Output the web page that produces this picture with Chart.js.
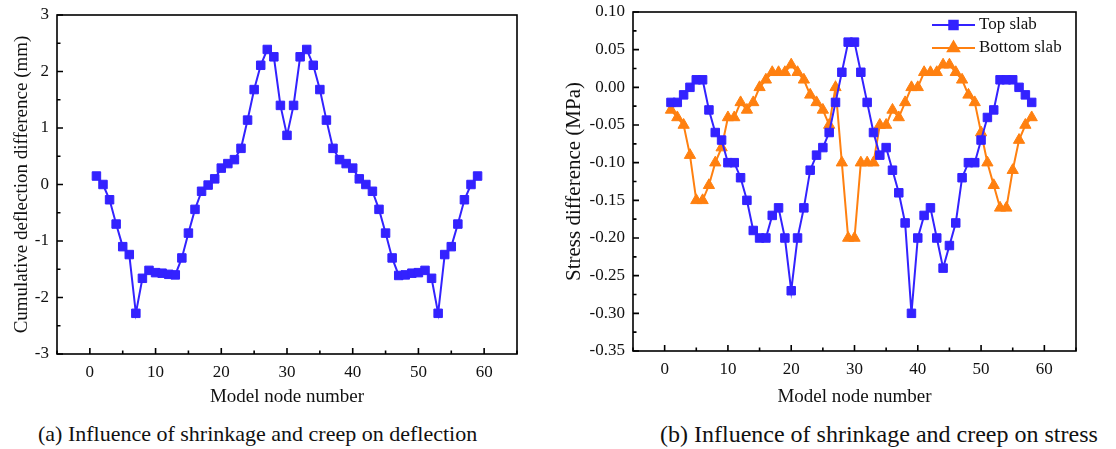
<!DOCTYPE html>
<html>
<head>
<meta charset="utf-8">
<script src="https://cdn.jsdelivr.net/npm/chart.js@4/dist/chart.umd.min.js"></script>
<style>
  body { margin: 0; background: #fff; width: 1116px; height: 449px; position: relative; overflow: hidden; }
  #chartA { position: absolute; left: 0; top: 0; }
  #chartB { position: absolute; left: 545px; top: 0; }
  .cap { position: absolute; font-family: "Liberation Serif", serif; line-height: 1; white-space: nowrap; color: #111; }
</style>
</head>
<body>
<canvas id="chartA" width="545" height="412"></canvas>
<canvas id="chartB" width="571" height="412"></canvas>
<div class="cap" style="left:38px;top:423px;font-size:22px">(a) Influence of shrinkage and creep on deflection</div>
<div class="cap" style="left:660px;top:422px;font-size:24px">(b) Influence of shrinkage and creep on stress</div>
<script>
const nodesA = [1, 2, 3, 4, 5, 6, 7, 8, 9, 10, 11, 12, 13, 14, 15, 16, 17, 18, 19, 20,
  21, 22, 23, 24, 25, 26, 27, 28, 29, 30, 31, 32, 33, 34, 35, 36, 37, 38, 39, 40,
  41, 42, 43, 44, 45, 46, 47, 48, 49, 50, 51, 52, 53, 54, 55, 56, 57, 58, 59];
const deflection = [0.15, 0.00, -0.27, -0.70, -1.10, -1.24, -2.28, -1.66, -1.52, -1.56,
  -1.57, -1.59, -1.60, -1.30, -0.86, -0.44, -0.12, -0.01, 0.10, 0.29,
  0.37, 0.44, 0.64, 1.14, 1.68, 2.11, 2.39, 2.26, 1.40, 0.87,
  1.40, 2.26, 2.39, 2.11, 1.68, 1.14, 0.64, 0.44, 0.37, 0.29,
  0.10, 0.00, -0.12, -0.44, -0.86, -1.30, -1.61, -1.60, -1.57, -1.56,
  -1.52, -1.66, -2.28, -1.24, -1.10, -0.70, -0.27, 0.00, 0.15];

const nodesB = [1, 2, 3, 4, 5, 6, 7, 8, 9, 10, 11, 12, 13, 14, 15, 16, 17, 18, 19, 20,
  21, 22, 23, 24, 25, 26, 27, 28, 29, 30, 31, 32, 33, 34, 35, 36, 37, 38, 39, 40,
  41, 42, 43, 44, 45, 46, 47, 48, 49, 50, 51, 52, 53, 54, 55, 56, 57, 58];
const topSlab = [-0.02, -0.02, -0.01, 0.00, 0.01, 0.01, -0.03, -0.06, -0.07, -0.10,
  -0.10, -0.12, -0.15, -0.19, -0.20, -0.20, -0.17, -0.16, -0.20, -0.27,
  -0.20, -0.16, -0.11, -0.09, -0.08, -0.06, -0.02, 0.02, 0.06, 0.06,
  0.02, -0.02, -0.06, -0.09, -0.08, -0.11, -0.14, -0.18, -0.30, -0.20,
  -0.17, -0.16, -0.20, -0.24, -0.21, -0.18, -0.12, -0.10, -0.10, -0.07,
  -0.04, -0.03, 0.01, 0.01, 0.01, 0.00, -0.01, -0.02];
const bottomSlab = [-0.03, -0.04, -0.05, -0.09, -0.15, -0.15, -0.13, -0.10, -0.08, -0.04,
  -0.04, -0.02, -0.03, -0.02, 0.00, 0.01, 0.02, 0.02, 0.02, 0.03,
  0.02, 0.01, -0.01, -0.02, -0.03, -0.05, 0.00, -0.10, -0.20, -0.20,
  -0.10, -0.10, -0.10, -0.05, -0.05, -0.03, -0.04, -0.02, 0.00, 0.00,
  0.02, 0.02, 0.02, 0.03, 0.03, 0.02, 0.01, -0.01, -0.02, -0.06,
  -0.10, -0.13, -0.16, -0.16, -0.11, -0.07, -0.05, -0.04];

const xTicks = [0, 10, 20, 30, 40, 50, 60];
const xMinor = [-5, 5, 15, 25, 35, 45, 55, 65];
const yTicksA = [-3, -2, -1, 0, 1, 2, 3];
const yMinorA = [-2.5, -1.5, -0.5, 0.5, 1.5, 2.5];
const yTicksB = [-0.35, -0.30, -0.25, -0.20, -0.15, -0.10, -0.05, 0.00, 0.05, 0.10];
const yMinorB = [-0.325, -0.275, -0.225, -0.175, -0.125, -0.075, -0.025, 0.025, 0.075];

const blue = "#3322ff";
const orange = "#ff8010";
const serif = "'Liberation Serif', 'Times New Roman', serif";

function pts(xs, ys) {
  return xs.map((x, i) => ({ x: x, y: ys[i] }));
}

// box round the plot and inward ticks, major and minor
const frameTicks = {
  id: "frameTicks",
  afterDraw(chart, args, opts) {
    const { ctx, chartArea: a, scales } = chart;
    ctx.save();
    ctx.strokeStyle = "#000";
    ctx.lineWidth = 1.6;
    ctx.strokeRect(a.left, a.top, a.right - a.left, a.bottom - a.top);
    ctx.beginPath();
    const mark = (axis, vals, len) => {
      vals.forEach((v) => {
        const p = axis.getPixelForValue(v);
        if (axis.isHorizontal()) {
          ctx.moveTo(p, a.bottom);
          ctx.lineTo(p, a.bottom - len);
        } else {
          ctx.moveTo(a.left, p);
          ctx.lineTo(a.left + len, p);
        }
      });
    };
    mark(scales.x, opts.xMajor, 6);
    mark(scales.x, opts.xMinor, 3.5);
    mark(scales.y, opts.yMajor, 6);
    mark(scales.y, opts.yMinor, 3.5);
    ctx.stroke();
    ctx.restore();
  },
};

// legend inside the top right corner
const innerLegend = {
  id: "innerLegend",
  afterDraw(chart, args, opts) {
    if (!opts.show) return;
    const { ctx, chartArea: a } = chart;
    ctx.save();
    ctx.font = "17px " + serif;
    ctx.textBaseline = "middle";
    chart.data.datasets.forEach((ds, i) => {
      const y = a.top + 13 + i * 23;
      const x0 = a.right - 144;
      const x1 = a.right - 101;
      ctx.strokeStyle = ds.borderColor;
      ctx.lineWidth = 2;
      ctx.beginPath();
      ctx.moveTo(x0, y);
      ctx.lineTo(x1, y);
      ctx.stroke();
      ctx.fillStyle = ds.backgroundColor;
      Chart.helpers.drawPoint(ctx, { pointStyle: ds.pointStyle, radius: ds.pointRadius, borderWidth: 1 }, (x0 + x1) / 2, y);
      ctx.fillStyle = "#111";
      ctx.fillText(ds.label, a.right - 97, y);
    });
    ctx.restore();
  },
};

function lineSet(label, data, color, style, radius) {
  return {
    label: label,
    data: data,
    borderColor: color,
    backgroundColor: color,
    borderWidth: 2,
    pointStyle: style,
    pointRadius: radius,
    pointBorderWidth: 1,
    tension: 0,
  };
}

function makeOptions(o) {
  return {
    responsive: false,
    animation: false,
    layout: { padding: o.padding },
    plugins: {
      legend: { display: false },
      tooltip: { enabled: false },
      frameTicks: { xMajor: xTicks, xMinor: xMinor, yMajor: o.yMajor, yMinor: o.yMinor },
      innerLegend: { show: o.legend },
    },
    scales: {
      x: {
        type: "linear",
        min: -5,
        max: 65,
        grid: { display: false, drawTicks: false },
        border: { display: false },
        afterBuildTicks: (s) => { s.ticks = xTicks.map((v) => ({ value: v })); },
        afterFit: (s) => { s.height = o.xHeight; s.paddingLeft = 0; s.paddingRight = 0; },
        ticks: { autoSkip: false, maxRotation: 0, padding: 8, color: "#111", font: { family: serif, size: 17 } },
        title: { display: true, text: "Model node number", color: "#111", font: { family: serif, size: 19 } },
      },
      y: {
        min: o.yMin,
        max: o.yMax,
        grid: { display: false, drawTicks: false },
        border: { display: false },
        afterBuildTicks: (s) => { s.ticks = o.yMajor.map((v) => ({ value: v })); },
        afterFit: (s) => { s.width = o.yWidth; s.paddingTop = 0; s.paddingBottom = 0; },
        ticks: { autoSkip: false, padding: 8, color: "#111", font: { family: serif, size: 17 }, callback: o.fmt },
        title: { display: true, text: o.yTitle, color: "#111", font: { family: serif, size: o.yTitleSize } },
      },
    },
  };
}

const chartA = new Chart(document.getElementById("chartA").getContext("2d"), {
  type: "line",
  data: {
    datasets: [lineSet("Cumulative deflection difference", pts(nodesA, deflection), blue, "rect", 6)],
  },
  options: makeOptions({
    padding: { left: 7, right: 28, top: 15, bottom: 0 },
    xHeight: 58,
    yWidth: 50,
    yMin: -3,
    yMax: 3,
    yMajor: yTicksA,
    yMinor: yMinorA,
    fmt: (v) => String(v),
    yTitle: "Cumulative deflection difference (mm)",
    yTitleSize: 19,
    legend: false,
  }),
  plugins: [frameTicks, innerLegend],
});

const chartB = new Chart(document.getElementById("chartB").getContext("2d"), {
  type: "line",
  data: {
    datasets: [
      lineSet("Top slab", pts(nodesB, topSlab), blue, "rect", 6),
      lineSet("Bottom slab", pts(nodesB, bottomSlab), orange, "triangle", 6.5),
    ],
  },
  options: makeOptions({
    padding: { left: 13, right: 40, top: 12, bottom: 0 },
    xHeight: 61,
    yWidth: 75,
    yMin: -0.35,
    yMax: 0.1,
    yMajor: yTicksB,
    yMinor: yMinorB,
    fmt: (v) => Number(v).toFixed(2),
    yTitle: "Stress difference (MPa)",
    yTitleSize: 21,
    legend: true,
  }),
  plugins: [frameTicks, innerLegend],
});
</script>
</body>
</html>
